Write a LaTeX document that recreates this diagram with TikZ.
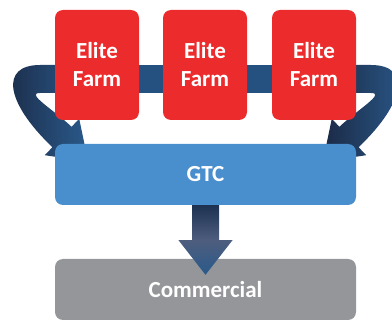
\documentclass[tikz,border=0pt]{standalone}
\usepackage{fontspec}
\setmainfont{Carlito}
\usetikzlibrary{calc}
\definecolor{farmred}{HTML}{EC2B2C}
\definecolor{gtcblue}{HTML}{4A8FCD}
\definecolor{comgrey}{HTML}{95969A}
\definecolor{bandblue}{HTML}{24517F}
\definecolor{arrowdark}{HTML}{1B2A46}
\definecolor{arrowmid}{HTML}{4E5D7E}
\definecolor{arrowblue}{HTML}{2A5A8B}
\tikzset{
  box/.style={rectangle, rounded corners=8pt, inner sep=0pt, align=center,
    text=white, font=\fontsize{23}{28}\selectfont\bfseries},
  farmbox/.style={box, fill=farmred, minimum width=84pt, minimum height=110pt},
  wide/.style={box, minimum width=301pt, minimum height=61pt},
  bendarrow/.style={left color=arrowdark, middle color=arrowmid, right color=arrowblue},
  downarrow/.style={top color=arrowdark!85!arrowblue, bottom color=arrowblue, middle color=arrowmid}
}
\begin{document}
\begin{tikzpicture}[x=1pt, y=-1pt]
\useasboundingbox (0,0) rectangle (392,321);
\clip (0,0) rectangle (392,321);

% band behind the farms, bending down into the GTC box on both sides
\fill[bandblue] (55,65) rectangle (356,93);
\shade[bendarrow] (60,65) -- (40,65) .. controls (0,65) and (5,102) .. (52.4,147.2)
  -- (44.8,155.2) -- (88.2,161.7) -- (79.2,118.8) -- (71.6,126.8)
  .. controls (53.4,109.6) and (25,93) .. (40,93) -- (60,93) -- cycle;
\begin{scope}[shift={(411,0)}, xscale=-1]
\shade[bendarrow] (60,65) -- (40,65) .. controls (0,65) and (5,102) .. (52.4,147.2)
  -- (44.8,155.2) -- (88.2,161.7) -- (79.2,118.8) -- (71.6,126.8)
  .. controls (53.4,109.6) and (25,93) .. (40,93) -- (60,93) -- cycle;
\end{scope}

% boxes
\node[farmbox] (farm1) at (97,65) {Elite\\Farm};
\node[farmbox] (farm2) at (205,65) {Elite\\Farm};
\node[farmbox] (farm3) at (314,65) {Elite\\Farm};
\node[wide, fill=gtcblue] (gtc) at (205.5,174.5) {GTC};
\node[wide, fill=comgrey] (com) at (205.5,289.5) {Commercial};

% arrow from GTC down to Commercial
\coordinate (tip) at ($(com.north)+(0,16)$);
\shade[downarrow] ($(gtc.south)+(-13.5,0)$) -- ($(gtc.south)+(13.5,0)$)
  -- ($(gtc.south)+(13.5,35)$) -- ($(gtc.south)+(27,35)$) -- (tip)
  -- ($(gtc.south)+(-27,35)$) -- ($(gtc.south)+(-13.5,35)$) -- cycle;
\end{tikzpicture}
\end{document}
